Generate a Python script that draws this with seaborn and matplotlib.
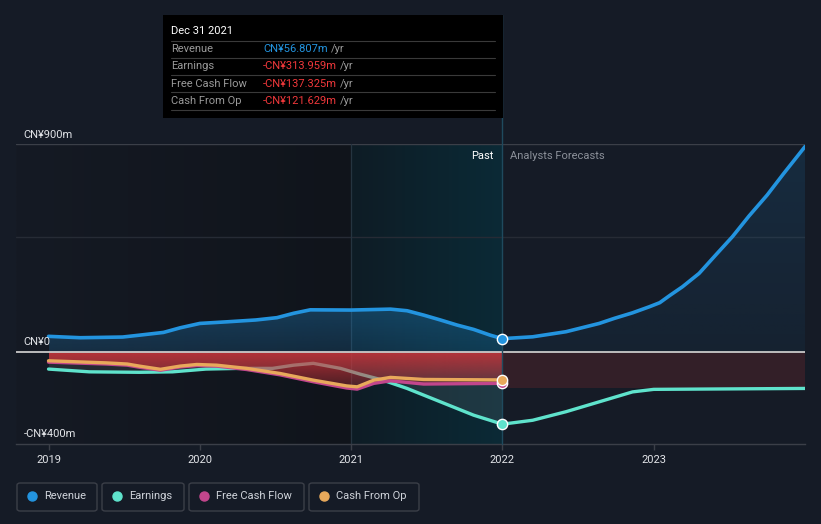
import numpy as np
import pandas as pd
import matplotlib
matplotlib.use("Agg")
import matplotlib.pyplot as plt
from matplotlib.colors import to_rgb
from matplotlib.patches import FancyBboxPatch, Rectangle
from matplotlib.lines import Line2D
import seaborn as sns

# ---------------- data ----------------
rev_past_x = [2019.0, 2019.21, 2019.49, 2019.6, 2019.76, 2019.87, 2020.0, 2020.18, 2020.37,
              2020.51, 2020.62, 2020.73, 2021.0, 2021.26, 2021.37, 2021.48, 2021.59, 2021.7,
              2021.81, 2021.92, 2022.0]
rev_past_y = [67, 61, 64, 72, 84, 104, 123, 130, 138, 148, 167, 182, 181, 185, 178, 159, 138,
              116, 97, 72, 57]
rev_fc_x = [2022.0, 2022.2, 2022.42, 2022.64, 2022.74, 2022.86, 2022.97, 2023.04, 2023.11,
            2023.19, 2023.3, 2023.41, 2023.52, 2023.63, 2023.75, 2023.86, 2024.0]
rev_fc_y = [57, 65, 87, 123, 145, 169, 195, 213, 246, 282, 340, 420, 499, 589, 680, 774, 890]

earn_past_x = [2019.0, 2019.27, 2019.6, 2019.82, 2020.04, 2020.26, 2020.48, 2020.62, 2020.75,
               2020.93, 2021.06, 2021.21, 2021.37, 2021.59, 2021.81, 2022.0]
earn_past_y = [-75, -87, -89, -87, -75, -72, -72, -58, -50, -72, -97, -123, -159, -217, -275,
               -314]
earn_fc_x = [2022.0, 2022.2, 2022.42, 2022.64, 2022.86, 2023.0, 2023.5, 2024.0]
earn_fc_y = [-314, -297, -260, -217, -174, -163, -161, -159]

cf_x = [2019.0, 2019.38, 2019.52, 2019.6, 2019.74, 2019.87, 2019.98, 2020.11, 2020.31, 2020.53,
        2020.75, 2020.97, 2021.04, 2021.15, 2021.26, 2021.48, 2022.0]
cfo_y = [-39, -48, -53, -62, -76, -62, -55, -58, -72, -94, -123, -148, -152, -123, -111, -120,
         -122]
fcf_y = [-45, -53, -58, -67, -80, -66, -60, -62, -77, -100, -130, -157, -162, -137, -126, -140,
         -137]

y_ticks = [900, 0, -400]
y_tick_labels = ["CN¥900m", "CN¥0", "-CN¥400m"]
x_ticks = [2019, 2020, 2021, 2022, 2023]
series_names = ["Revenue", "Earnings", "Free Cash Flow", "Cash From Op"]
tooltip_date = "Dec 31 2021"
tooltip_values = ["CN¥56.807m", "-CN¥313.959m", "-CN¥137.325m", "-CN¥121.629m"]

# ---------------- style ----------------
BG = "#151b26"
C_REV = "#2394df"
C_EARN = "#5fe3cc"
C_FCF = "#c2468c"
C_CFO = "#e8a95b"
C_RED = "#e03a3a"

sns.set_theme(style="dark")
plt.rcParams["font.family"] = ["Roboto", "DejaVu Sans"]

W, H = 821, 524
fig = plt.figure(figsize=(W / 100, H / 100), dpi=100, facecolor=BG)

def fx(px):
    return px / W

def fy(py):
    return 1 - py / H

ax_l, ax_r, ax_t, ax_b = 16, 805, 144.3, 444
ax = fig.add_axes([fx(ax_l), fy(ax_b), (ax_r - ax_l) / W, (ax_b - ax_t) / H])
ax.set_facecolor(BG)
XMIN, XMAX = 2018.785, 2024.0
YMIN, YMAX = -400, 900

def hgrad(x0, x1, c0, c1, z):
    n = 256
    a = np.zeros((1, n, 4))
    r0, r1 = np.array(to_rgb(c0)), np.array(to_rgb(c1))
    t = np.linspace(0, 1, n)
    a[0, :, :3] = r0[None, :] * (1 - t[:, None]) + r1[None, :] * t[:, None]
    a[0, :, 3] = 1
    ax.imshow(a, extent=[x0, x1, YMIN, YMAX], aspect="auto", zorder=z, interpolation="bilinear")

# background regions
hgrad(XMIN, 2021.0, "#151a24", "#10141b", 0.5)
hgrad(2021.0, 2022.0, "#0e1c25", "#0b2a36", 0.5)

def grad_fill(x, y1, y2, color, a_top, a_bot, ytop, ybot, z):
    poly = ax.fill_between(x, y1, y2, color="none", lw=0)
    path = poly.get_paths()[0]
    n = 256
    arr = np.zeros((n, 1, 4))
    arr[..., :3] = to_rgb(color)
    arr[:, 0, 3] = np.linspace(a_top, a_bot, n)
    im = ax.imshow(arr, extent=[min(x), max(x), ybot, ytop], origin="upper",
                   aspect="auto", zorder=z, interpolation="bilinear")
    im.set_clip_path(path, ax.transData)

rev_x = rev_past_x + rev_fc_x[1:]
rev_y = rev_past_y + rev_fc_y[1:]
# revenue area
grad_fill(rev_past_x, 0, rev_past_y, C_REV, 0.32, 0.18, 200, 0, 1)
grad_fill(rev_fc_x, 0, rev_fc_y, C_REV, 0.14, 0.06, 900, 0, 1)

# earnings area (past)
ax.fill_between(earn_past_x, 0, earn_past_y, color="white", alpha=0.08, lw=0, zorder=1.2)
# forecast negative area
ax.fill_between([2022.0, 2024.0], 0, earn_fc_y[-1], color=C_RED, alpha=0.15, lw=0, zorder=1.2)

# earnings line under red fill
df_e = pd.DataFrame({"x": earn_past_x + earn_fc_x[1:], "y": earn_past_y + earn_fc_y[1:]})
sns.lineplot(data=df_e, x="x", y="y", ax=ax, color=C_EARN, lw=2.4, zorder=2, sort=False)

# red gradient fill (past)
grad_fill(cf_x, 0, fcf_y, "#cc343a", 0.88, 0.25, 0, -170, 3)

# zero line and grid
ax.axhline(0, color="#c9c9c9", lw=1.3, zorder=3.5)
ax.axhline(900, color="#3b3f48", lw=1.0, zorder=0.8)
ax.axhline(500, color="#262b35", lw=1.0, zorder=0.8)
ax.axvline(2021.0, color="#253440", lw=0.9, zorder=0.9)

# lines
df_r = pd.DataFrame({"x": rev_x, "y": rev_y})
sns.lineplot(data=df_r, x="x", y="y", ax=ax, color=C_REV, lw=2.6, zorder=5, sort=False)
df_f = pd.DataFrame({"x": cf_x, "y": fcf_y})
sns.lineplot(data=df_f, x="x", y="y", ax=ax, color=C_FCF, lw=2.4, zorder=5, sort=False)
df_c = pd.DataFrame({"x": cf_x, "y": cfo_y})
sns.lineplot(data=df_c, x="x", y="y", ax=ax, color=C_CFO, lw=2.4, zorder=5.5, sort=False)

# end-of-past markers
for yv, c in [(rev_past_y[-1], C_REV), (earn_past_y[-1], C_EARN), (fcf_y[-1], C_FCF), (cfo_y[-1], C_CFO)]:
    ax.scatter([2022.0], [yv], s=55, color=c, edgecolor="white", linewidth=1.0, zorder=7)

ax.set_xlim(XMIN, XMAX)
ax.set_ylim(YMIN, YMAX)
ax.set_xlabel("")
ax.set_ylabel("")
for s in ["top", "left", "right"]:
    ax.spines[s].set_visible(False)
ax.spines["bottom"].set_color("#3b3f48")
ax.spines["bottom"].set_linewidth(1.0)
ax.set_xticks(x_ticks)
ax.set_xticklabels([str(t) for t in x_ticks])
ax.tick_params(axis="x", colors="#3b3f48", length=4, width=1, labelcolor="#e2e4e8",
               labelsize=8, pad=4, bottom=True, direction="out")
ax.set_yticks([])
ax.grid(False)

# y labels inside the plot
for v, lab in zip(y_ticks, y_tick_labels):
    ax.text(XMIN + 0.05, v + 20 if v != -400 else v + 22, lab, color="#e2e4e8", fontsize=8,
            ha="left", va="bottom", zorder=8)

# past / forecast divider line extending up to tooltip
ax.plot([2022.0, 2022.0], [YMIN, YMIN + (YMAX - YMIN) * 1.431], color="#1f4a5e", lw=1.0,
        zorder=6, clip_on=False)
ax.text(2021.94, 850, "Past", color="white", fontsize=8, ha="right", va="center", zorder=8)
ax.text(2022.05, 850, "Analysts Forecasts", color="#8b9099", fontsize=8, ha="left",
        va="center", zorder=8)

# tooltip
fig.patches.append(Rectangle((fx(163), fy(118)), (503 - 163) / W, (118 - 15) / H,
                             transform=fig.transFigure, facecolor="#000000", edgecolor="none",
                             zorder=10))
fig.text(fx(171), fy(31), tooltip_date, color="white", fontsize=8, ha="left", va="center",
         zorder=11)
for yy in [41, 58, 75, 92, 110]:
    fig.add_artist(Line2D([fx(171), fx(495)], [fy(yy), fy(yy)], color="#3a3a3a", lw=0.8,
                          zorder=11))
row_y = [49, 66, 84, 101]
for name, val, yy in zip(series_names, tooltip_values, row_y):
    fig.text(fx(171), fy(yy), name, color="#9a9a9a", fontsize=8, ha="left", va="center",
             zorder=11)
    col = C_REV if not val.startswith("-") else "#f0383b"
    t = fig.text(fx(263), fy(yy), val, color=col, fontsize=8, ha="left", va="center",
                 zorder=11)
    fig.canvas.draw()
    bb = t.get_window_extent()
    fig.text(bb.x1 / W + fx(3), fy(yy), "/yr", color="#9a9a9a", fontsize=8, ha="left",
             va="center", zorder=11)

# legend
boxes = [(17, 97), (102, 184), (189, 304), (309, 419)]
cols = [C_REV, C_EARN, C_FCF, C_CFO]
for (x0, x1), name, c in zip(boxes, series_names, cols):
    fig.patches.append(FancyBboxPatch((fx(x0), fy(511)), (x1 - x0) / W, (511 - 483) / H,
                                      boxstyle="round,pad=0,rounding_size=0.004",
                                      transform=fig.transFigure, facecolor="none",
                                      edgecolor="#3b3f48", lw=1.0, zorder=10))
    fig.add_artist(Line2D([fx(x0 + 15)], [fy(496)], marker="o", markersize=6.5, color=c,
                          lw=0, zorder=11))
    fig.text(fx(x0 + 27), fy(496), name, color="#cfd3da", fontsize=8, ha="left",
             va="center", zorder=11)

fig.savefig("out.png", dpi=100, facecolor=BG)
